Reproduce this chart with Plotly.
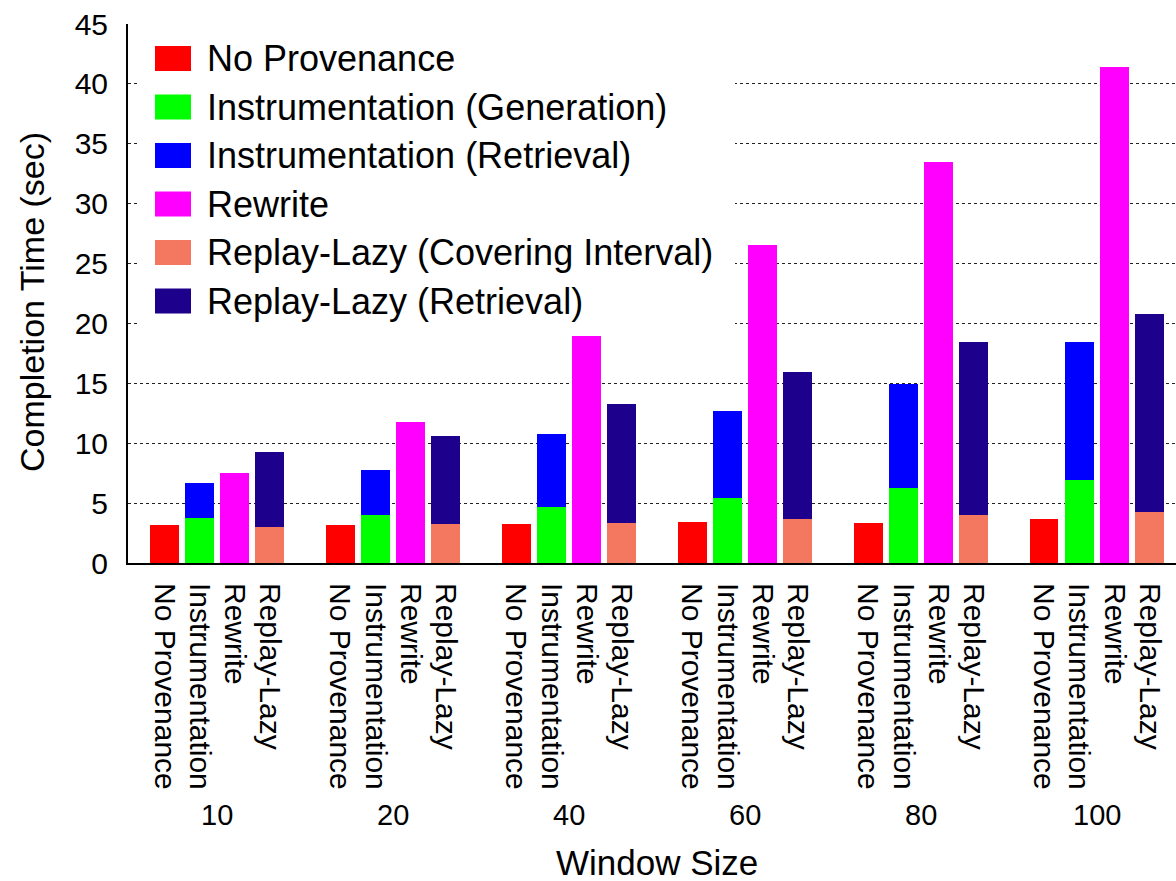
import plotly.graph_objects as go

window_sizes = ["10", "20", "40", "60", "80", "100"]
bar_labels = ["No Provenance", "Instrumentation", "Rewrite", "Replay-Lazy"]

no_provenance = [3.17, 3.17, 3.25, 3.42, 3.34, 3.67]
instr_generation = [3.78, 4.00, 4.67, 5.45, 6.29, 6.93]
instr_retrieval = [2.92, 3.76, 6.10, 7.24, 8.65, 11.52]
rewrite = [7.51, 11.77, 18.97, 26.57, 33.45, 41.40]
replay_covering = [3.03, 3.28, 3.37, 3.67, 4.03, 4.26]
replay_retrieval = [6.24, 7.35, 9.90, 12.27, 14.42, 16.52]

series_names = ["No Provenance", "Instrumentation (Generation)", "Instrumentation (Retrieval)",
                "Rewrite", "Replay-Lazy (Covering Interval)", "Replay-Lazy (Retrieval)"]
colors = ["#ff0000", "#00ff00", "#0000ff", "#ff00ff", "#f47760", "#1d008c"]

W, H = 1176, 881
L, R, T, B = 128, 0, 24, 318
PW = W - L - R
PH = H - T - B

def px(x):
    return (x - L) / PW

def py(y):
    return (H - B - y) / PH

FONT = "Liberation Sans, Arial, Helvetica, sans-serif"
n = len(window_sizes)
slot = 5

def xs(k):
    return [g * slot + k for g in range(n)]

fig = go.Figure()
bw = 0.82
series = [
    (no_provenance, 0), (instr_generation, 1), (instr_retrieval, 1),
    (rewrite, 2), (replay_covering, 3), (replay_retrieval, 3),
]
for i, (vals, k) in enumerate(series):
    fig.add_trace(go.Bar(x=xs(k), y=vals, name=series_names[i], width=bw,
                         marker=dict(color=colors[i], line=dict(width=0)),
                         showlegend=False))

tickvals = [g * slot + k for g in range(n) for k in range(4)]
ticktext = [bar_labels[k] for g in range(n) for k in range(4)]

fig.update_layout(
    width=W, height=H,
    margin=dict(l=L, r=R, t=T, b=B),
    paper_bgcolor="white", plot_bgcolor="white",
    barmode="stack",
    font=dict(family=FONT, color="black"),
    xaxis=dict(range=[-1.03, 28.75], tickvals=tickvals, ticktext=ticktext,
               tickangle=90, tickfont=dict(size=30), showgrid=False,
               showline=True, linecolor="black", linewidth=2, zeroline=False,
               ticks="", ticklabelstandoff=12),
    yaxis=dict(range=[0, 45], tickvals=list(range(0, 46, 5)), tickfont=dict(size=30),
               showgrid=True, gridcolor="#222222", griddash="dot", gridwidth=1,
               showline=True, linecolor="black", linewidth=2, zeroline=False,
               ticks="", ticklabelstandoff=12),
)

annotations = []
for g, ws in enumerate(window_sizes):
    annotations.append(dict(x=g * slot + 1.5, xref="x", y=py(815), yref="paper",
                            text=ws, showarrow=False, font=dict(size=29),
                            xanchor="center", yanchor="middle"))
annotations.append(dict(x=px(657), xref="paper", y=py(862), yref="paper",
                        text="Window Size", showarrow=False, font=dict(size=35),
                        xanchor="center", yanchor="middle"))
annotations.append(dict(x=px(32), xref="paper", y=py(302), yref="paper",
                        text="Completion Time (sec)", textangle=-90, showarrow=False,
                        font=dict(size=34), xanchor="center", yanchor="middle"))

shapes = [dict(type="rect", xref="paper", yref="paper", x0=px(140), x1=px(735),
               y0=py(325), y1=py(34), fillcolor="white", line=dict(width=0), layer="above")]
for i, name in enumerate(series_names):
    cy = 58.5 + 48.5 * i
    shapes.append(dict(type="rect", xref="paper", yref="paper", x0=px(155), x1=px(191),
                       y0=py(cy + 12.5), y1=py(cy - 12.5), fillcolor=colors[i],
                       line=dict(width=0), layer="above"))
    annotations.append(dict(x=px(205), xref="paper", y=py(cy), yref="paper", text=name,
                            showarrow=False, font=dict(size=36), xanchor="left",
                            yanchor="middle"))

fig.update_layout(annotations=annotations, shapes=shapes)
fig.write_html("out.html", config={"displayModeBar": False},
               post_script="document.body.style.margin='0';document.body.style.overflow='hidden';")
